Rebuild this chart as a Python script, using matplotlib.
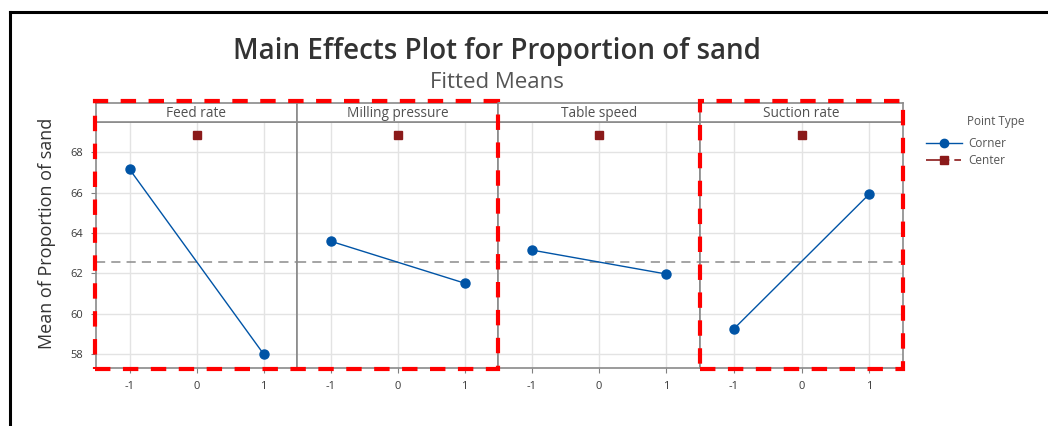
import matplotlib.pyplot as plt
from matplotlib.patches import Rectangle
from matplotlib.lines import Line2D

plt.rcParams['font.family'] = ['Open Sans', 'DejaVu Sans']

factors = ["Feed rate", "Milling pressure", "Table speed", "Suction rate"]
levels = [-1, 1]
corner_means = [
    [67.16, 58.00],
    [63.59, 61.51],
    [63.15, 61.96],
    [59.24, 65.92],
]
center_means = [68.84, 68.84, 68.84, 68.84]
grand_mean = 62.55
yticks = [58, 60, 62, 64, 66, 68]
xticks = [-1, 0, 1]

W, H = 1048, 426
fig = plt.figure(figsize=(W / 100, H / 100), dpi=100)

def fx(px):
    return px / W

def fy(py):
    return 1 - py / H

blue = "#0054A6"
dark_red = "#8B1A1A"
grey_txt = "#3a3a3a"
panel_edges = [96, 297, 498, 700, 903]
top, strip_top, bottom = 122, 103, 368

for i, name in enumerate(factors):
    x0, x1 = panel_edges[i], panel_edges[i + 1]
    ax = fig.add_axes([fx(x0), fy(bottom), fx(x1 - x0), (bottom - top) / H])
    ax.set_xlim(-1.5, 1.5)
    ax.set_ylim(57.3, 69.5)
    ax.set_xticks(xticks)
    ax.set_xticklabels([str(t) for t in xticks])
    ax.set_yticks(yticks)
    ax.grid(True, color="#e3e3e3", linewidth=1)
    ax.set_axisbelow(True)
    ax.axhline(grand_mean, color="#8c8c8c", linestyle=(0, (6, 4)), linewidth=1.1)
    ax.plot(levels, corner_means[i], color=blue, linewidth=1, marker="o",
            markersize=6.5, zorder=3)
    ax.plot([0], [center_means[i]], linestyle="none", marker="s", color=dark_red,
            markersize=6, zorder=3)
    ax.tick_params(axis="both", labelsize=8, colors="#808080", labelcolor=grey_txt,
                   length=3.5, width=0.8, pad=6)
    if i > 0:
        ax.tick_params(axis="y", left=False, labelleft=False)
    for s in ax.spines.values():
        s.set_color("#8a8a8a")
        s.set_linewidth(1.2)

    # strip header
    sax = fig.add_axes([fx(x0), fy(top), fx(x1 - x0), (top - strip_top) / H])
    sax.set_xticks([])
    sax.set_yticks([])
    for s in sax.spines.values():
        s.set_color("#8a8a8a")
        s.set_linewidth(1.2)
    sax.text(0.5, 0.45, name, ha="center", va="center", fontsize=9.8,
             color="#505050", transform=sax.transAxes)

fig.text(fx(497), fy(51), "Main Effects Plot for Proportion of sand", ha="center",
         va="center", fontsize=20, fontweight="semibold", color="#333333")
fig.text(fx(497), fy(83), "Fitted Means", ha="center", va="center", fontsize=16,
         color="#555555")
fig.text(fx(47), fy(233), "Mean of Proportion of sand", ha="center", va="center",
         rotation=90, fontsize=13, color="#333333")

# legend
fig.text(fx(967), fy(122), "Point Type", ha="left", va="center", fontsize=8.5,
         color="#555555")
handles = [
    Line2D([], [], color=blue, marker="o", markersize=6, linewidth=1),
    Line2D([], [], color=dark_red, marker="s", markersize=5.5, linewidth=1.2,
           linestyle=(0, (14, 3, 4, 3))),
]
leg = fig.legend(handles, ["Corner", "Center"], loc="upper left",
                 bbox_to_anchor=(fx(921), fy(132)), frameon=False, fontsize=8.5,
                 handlelength=3.1, handletextpad=0.5, labelspacing=0.4,
                 borderaxespad=0)
for t in leg.get_texts():
    t.set_color("#555555")

# red dashed highlight boxes
for (a, b) in [(95, 498), (700, 903)]:
    fig.patches.append(Rectangle((fx(a), fy(369)), fx(b - a), (369 - 101) / H,
                                 transform=fig.transFigure, fill=False,
                                 edgecolor="#ff0000", linewidth=3,
                                 linestyle=(0, (3.7, 3.0)), zorder=10))

# screenshot frame
fig.add_artist(Line2D([fx(10), 1], [fy(12), fy(12)], color="black", linewidth=2.2,
                      transform=fig.transFigure))
fig.add_artist(Line2D([fx(10), fx(10)], [0, fy(12)], color="black", linewidth=2.2,
                      transform=fig.transFigure))

fig.savefig("out.png", dpi=100)
